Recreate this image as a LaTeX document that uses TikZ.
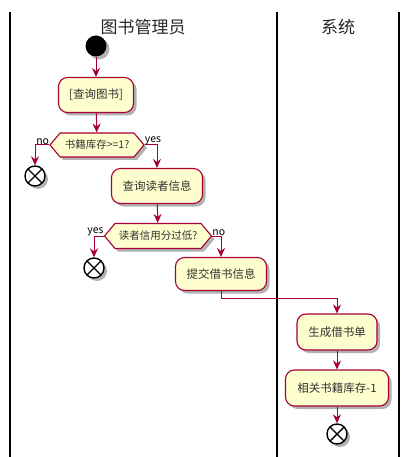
\documentclass[tikz,border=0pt]{standalone}
\usepackage{fontspec}
\newfontfamily\cjk{Noto Sans CJK SC}
\usetikzlibrary{arrows.meta,shapes.symbols,shadows}
\definecolor{pbord}{HTML}{A80036}
\definecolor{pfill}{HTML}{FEFECE}
\begin{document}
\begin{tikzpicture}[x=1pt,y=-1pt,
  shad/.style={drop shadow={shadow xshift=3pt,shadow yshift=-3pt,opacity=0.3,fill=black}},
  act/.style={draw=pbord, fill=pfill, line width=1.1pt, rounded corners=9pt, inner sep=0pt, font=\cjk\fontsize{11.5}{13}\selectfont, text=black!80, shad},
  dec/.style={signal, signal to=east and west, signal pointer angle=100, draw=pbord, fill=pfill, line width=1.1pt, inner xsep=2pt, inner ysep=0pt, font=\cjk\fontsize{10.5}{12}\selectfont, text=black!80, shad},
  endn/.style={circle, draw=black, fill=white, line width=1.4pt, minimum size=20pt, inner sep=0pt, shad,
    path picture={\draw[line width=1.4pt] (path picture bounding box.center) +(-7,-7) -- +(7,7) +(-7,7) -- +(7,-7);}},
  startn/.style={circle, fill=black, minimum size=21pt, inner sep=0pt, shad},
  flow/.style={draw=pbord, line width=1pt, -{Stealth[length=9pt,width=8pt,inset=3pt]}},
  lane/.style={draw=black, line width=1.5pt},
  lbl/.style={font=\cjk\fontsize{10.5}{12}\selectfont, inner sep=0pt},
  ttl/.style={font=\cjk\fontsize{17}{20}\selectfont, text=black!85}
]
\useasboundingbox (0,0) rectangle (409,457);
% lanes
\coordinate (l1t) at (10,12); \coordinate (l1b) at (10,457);
\coordinate (l2t) at (277,12); \coordinate (l2b) at (277,457);
\coordinate (l3t) at (399,12); \coordinate (l3b) at (399,457);
\draw[lane] (l1t) -- (l1b);
\draw[lane] (l2t) -- (l2b);
\draw[lane] (l3t) -- (l3b);
\node[ttl] (t1) at (143,27) {图书管理员};
\node[ttl] (t2) at (338,27) {系统};
% nodes
\node[startn] (s) at (96,46) {};
\node[act, minimum width=75pt, minimum height=35pt] (b1) at (96,95) {[查询图书]};
\node[dec, minimum width=94pt, minimum height=24pt] (d1) at (97,145) {书籍库存>=1?};
\node[endn] (e1) at (35,176) {};
\node[act, minimum width=91pt, minimum height=35pt] (b2) at (157,186) {查询读者信息};
\node[dec, minimum width=107pt, minimum height=25pt] (d2) at (158,236) {读者信用分过低?};
\node[endn] (e2) at (94,268) {};
\node[act, minimum width=91pt, minimum height=33pt] (b3) at (221,274) {提交借书信息};
\node[act, minimum width=80pt, minimum height=36pt] (b4) at (337,332) {生成借书单};
\node[act, minimum width=103pt, minimum height=36pt] (b5) at (337,388) {相关书籍库存-1};
\node[endn] (e3) at (337,434) {};
\coordinate (j) at (221,298);
% connectors
\draw[flow] (s) -- (b1);
\draw[flow] (b1) -- (d1);
\draw[flow] (d1.west) -| (e1.north);
\draw[flow] (d1.east) -| (b2.north);
\draw[flow] (b2) -- (d2);
\draw[flow] (d2.west) -| (e2.north);
\draw[flow] (d2.east) -| (b3.north);
\draw[flow] (b3.south) -- (j) -| (b4.north);
\draw[flow] (b4) -- (b5);
\draw[flow] (b5) -- (e3);
% labels
\node[lbl, anchor=south east] (n1) at (d1.west) {no};
\node[lbl, anchor=south west] (y1) at (d1.east) {yes};
\node[lbl, anchor=south east] (y2) at (d2.west) {yes};
\node[lbl, anchor=south west] (n2) at (d2.east) {no};
\end{tikzpicture}
\end{document}
